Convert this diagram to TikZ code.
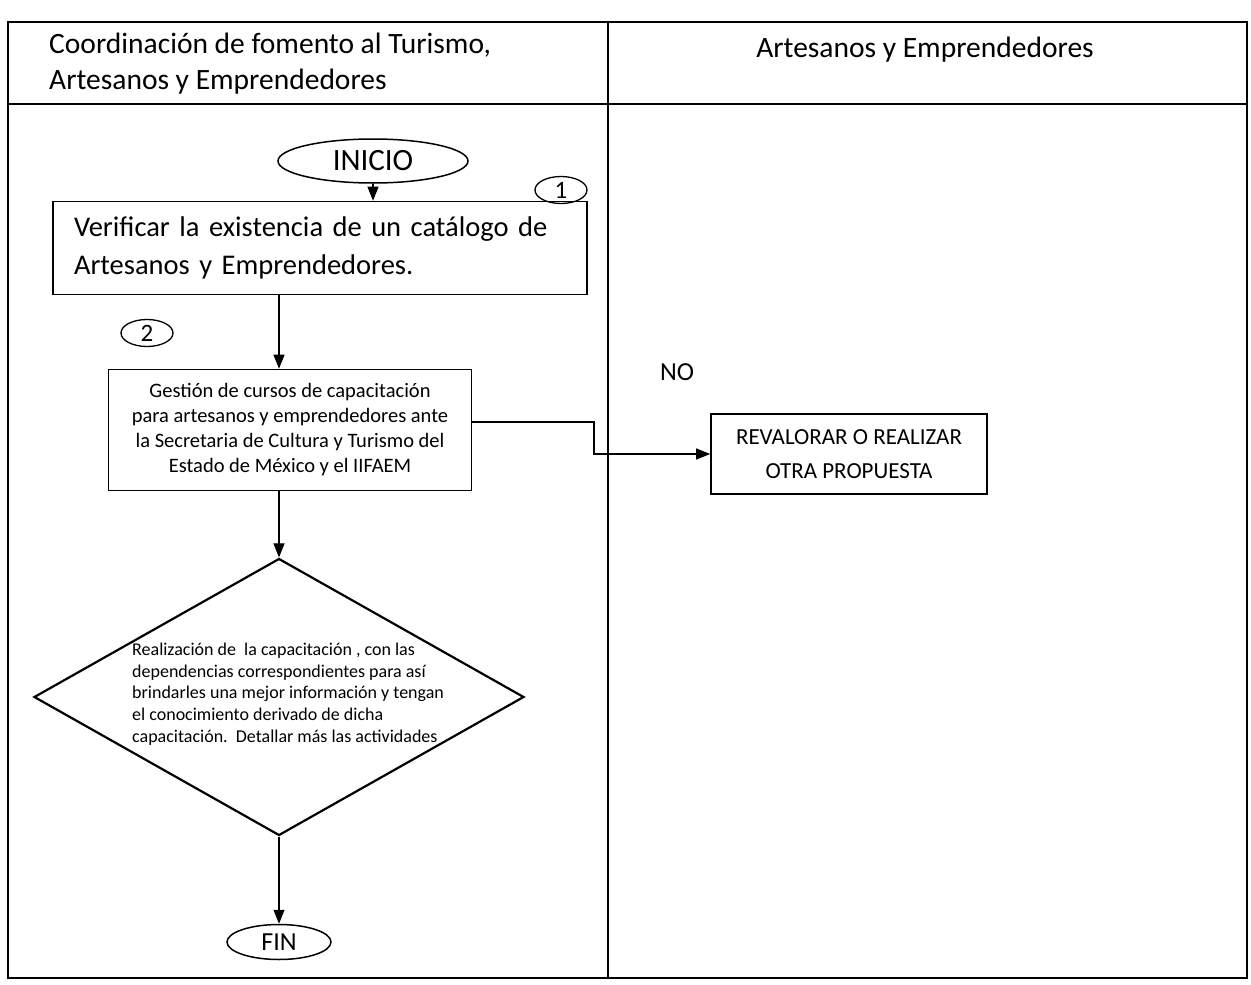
\documentclass[tikz,border=0pt]{standalone}
\usepackage{fontspec}
\setmainfont{Carlito}
\usetikzlibrary{arrows.meta,shapes.geometric}
\begin{document}
\begin{tikzpicture}[x=1pt,y=-1pt,
  lane/.style={draw=black,line width=1.8pt},
  proc/.style={draw=black,line width=1.6pt,inner sep=0pt,align=center},
  term/.style={draw=black,ellipse,line width=1.5pt,inner sep=0pt},
  num/.style={draw=black,ellipse,line width=1.3pt,inner sep=0pt,minimum width=52pt,minimum height=27pt,font=\fontsize{25}{27}\selectfont},
  arr/.style={line width=1.1pt,-{Triangle[length=14pt,width=11pt]}}
]
\useasboundingbox (0,0) rectangle (1251,985);
\fill[white] (0,0) rectangle (1251,985);
% swimlane frame
\draw[lane] (8,22) rectangle (1247,978);
\draw[lane] (8,104) -- (1247,104);
\draw[lane] (608,22) -- (608,978);
\node[anchor=west, align=left, inner sep=0pt, font=\fontsize{29.5}{36}\selectfont] (h1) at (49,64) {Coordinación de fomento al Turismo,\\Artesanos y Emprendedores};
\node[anchor=base, inner sep=0pt, font=\fontsize{29.5}{36}\selectfont] (h2) at (925,57) {Artesanos y Emprendedores};
% nodes
\node[term, minimum width=190pt, minimum height=44pt, font=\fontsize{31}{33}\selectfont] (ini) at (373,161) {INICIO};
\node[proc, text width=492pt, inner xsep=21pt, minimum height=93pt, align=left, font=\fontsize{28.5}{38}\selectfont] (b1) at (320,248) {\makebox[492pt][s]{Verificar la existencia de un catálogo de}\\Artesanos y Emprendedores.};
\node[num] (n1) at (561,190) {1};
\node[proc, minimum width=363pt, minimum height=121pt, font=\fontsize{20.5}{25}\selectfont] (b2) at (290,430) {Gestión de cursos de capacitación\\para artesanos y emprendedores ante\\la Secretaria de Cultura y Turismo del\\Estado de México y el IIFAEM};
\node[num] (n2) at (147,333) {2};
\node[draw=black, diamond, line width=2.2pt, minimum width=490pt, minimum height=277pt, inner sep=0pt] (d) at (279,697) {};
\node[anchor=west, align=left, inner sep=0pt, font=\fontsize{18}{21.7}\selectfont] (dt) at (132,694) {Realización de\ \ la capacitación , con las\\dependencias correspondientes para así\\brindarles una mejor información y tengan\\el conocimiento derivado de dicha\\capacitación.\ \ Detallar más las actividades};
\node[term, minimum width=104pt, minimum height=35pt, font=\fontsize{26}{28}\selectfont] (fin) at (279,942) {FIN};
\node[font=\fontsize{26}{28}\selectfont] (no) at (677,372) {NO};
\node[proc, minimum width=276pt, minimum height=80pt, font=\fontsize{23}{34}\selectfont] (b3) at (849,454) {REVALORAR O REALIZAR\\OTRA PROPUESTA};
% connectors
\draw[arr] (ini) -- (ini |- b1.north);
\draw[arr] (b1.south -| d.north) -- (b2.north -| d.north);
\draw[arr] (b2.south -| d.north) -- (d.north);
\draw[arr] (d.south) -- (fin.north);
\coordinate (k) at (594,422);
\draw[arr] ([yshift=8pt]b2.east) -- (k) |- (b3.west);
\end{tikzpicture}
\end{document}
